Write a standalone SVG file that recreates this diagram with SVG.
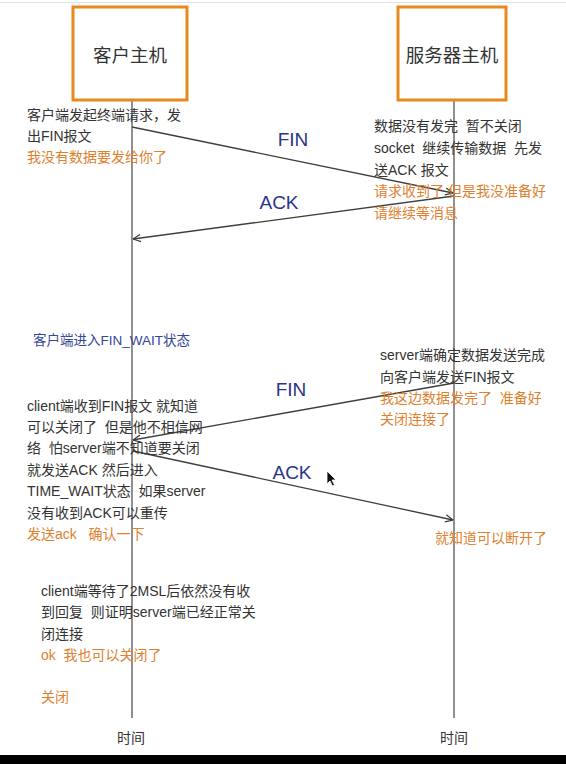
<svg xmlns="http://www.w3.org/2000/svg" width="566" height="764" viewBox="0 0 566 764">
<style>
text{font-family:"Liberation Sans","Noto Sans CJK SC",sans-serif;white-space:pre}
.box{fill:#fff;stroke:#e8891e;stroke-width:3}
.title{font-size:18.5px;fill:#333;text-anchor:middle}
.life{stroke:#555;stroke-width:1.3;fill:none}
.msg{stroke:#3f3f3f;stroke-width:1.3;fill:none;marker-end:url(#arr)}
.lbl{font-size:19px;fill:#2b3588;text-anchor:middle}
.t{font-size:14px;fill:#333}
.o{font-size:14px;fill:#e0812f}
.b{font-size:13.5px;fill:#34479a}
.time{font-size:14px;fill:#333;text-anchor:middle}
</style>
<defs>
<marker id="arr" viewBox="0 0 10 10" refX="9.5" refY="5" markerWidth="9" markerHeight="9" markerUnits="userSpaceOnUse" orient="auto">
<path d="M1,1 L9.5,5 L1,9" fill="none" stroke="#3f3f3f" stroke-width="1.4"/>
</marker>
</defs>
<rect x="0" y="0" width="566" height="764" fill="#fff"/>
<line x1="0" y1="2.5" x2="566" y2="2.5" stroke="#e4e4e4" stroke-width="1"/>

<g id="lifelines">
<line class="life" x1="132" y1="100" x2="132" y2="718"/>
<line class="life" x1="454" y1="100" x2="454" y2="718"/>
</g>

<g id="client">
<rect class="box" x="73" y="7" width="114" height="93"/>
<text class="title" x="130" y="62">客户主机</text>
</g>
<g id="server">
<rect class="box" x="398" y="7" width="108" height="93"/>
<text class="title" x="452" y="62">服务器主机</text>
</g>

<g id="connectors">
<path class="msg" d="M132,127 L453,193"/>
<path class="msg" d="M454,196 L133,239"/>
<path class="msg" d="M454,383 L133,440"/>
<path class="msg" d="M133,451 L453,520"/>
<text class="lbl" x="293" y="146">FIN</text>
<text class="lbl" x="279" y="209">ACK</text>
<text class="lbl" x="291" y="396">FIN</text>
<text class="lbl" x="292" y="479">ACK</text>
</g>

<g id="note-client-1">
<text class="t" x="27" y="120">客户端发起终端请求，发</text>
<text class="t" x="27" y="141">出FIN报文</text>
<text class="o" x="27" y="162">我没有数据要发给你了</text>
</g>

<g id="note-server-1">
<text class="t" x="374" y="131">数据没有发完  暂不关闭</text>
<text class="t" x="374" y="153">socket  继续传输数据  先发</text>
<text class="t" x="374" y="175">送ACK 报文</text>
<text class="o" x="374" y="196">请求收到了 但是我没准备好</text>
<text class="o" x="374" y="218">请继续等消息</text>
</g>

<g id="note-fin-wait">
<text class="b" x="33" y="345">客户端进入FIN_WAIT状态</text>
</g>

<g id="note-server-2">
<text class="t" x="380" y="360">server端确定数据发送完成</text>
<text class="t" x="380" y="382">向客户端发送FIN报文</text>
<text class="o" x="380" y="403">我这边数据发完了  准备好</text>
<text class="o" x="380" y="424">关闭连接了</text>
</g>

<g id="note-client-2">
<text class="t" x="27" y="411">client端收到FIN报文 就知道</text>
<text class="t" x="27" y="432">可以关闭了  但是他不相信网</text>
<text class="t" x="27" y="453">络  怕server端不知道要关闭</text>
<text class="t" x="27" y="475">就发送ACK 然后进入</text>
<text class="t" x="27" y="496">TIME_WAIT状态  如果server</text>
<text class="t" x="27" y="518">没有收到ACK可以重传</text>
<text class="o" x="27" y="539">发送ack   确认一下</text>
</g>

<g id="note-server-3">
<text class="o" x="435" y="543">就知道可以断开了</text>
</g>

<g id="note-client-3">
<text class="t" x="41" y="596">client端等待了2MSL后依然没有收</text>
<text class="t" x="41" y="617">到回复  则证明server端已经正常关</text>
<text class="t" x="41" y="639">闭连接</text>
<text class="o" x="41" y="660">ok  我也可以关闭了</text>
<text class="o" x="41" y="702">关闭</text>
</g>

<g id="time-labels">
<text class="time" x="131" y="743">时间</text>
<text class="time" x="454" y="743">时间</text>
</g>

<path d="M327,471 L327,484 L330,481 L332.5,486 L334.5,485 L332,480 L336,480 Z" fill="#111" stroke="#fff" stroke-width="0.8"/>
<rect x="0" y="755" width="566" height="9" fill="#000"/>
</svg>
